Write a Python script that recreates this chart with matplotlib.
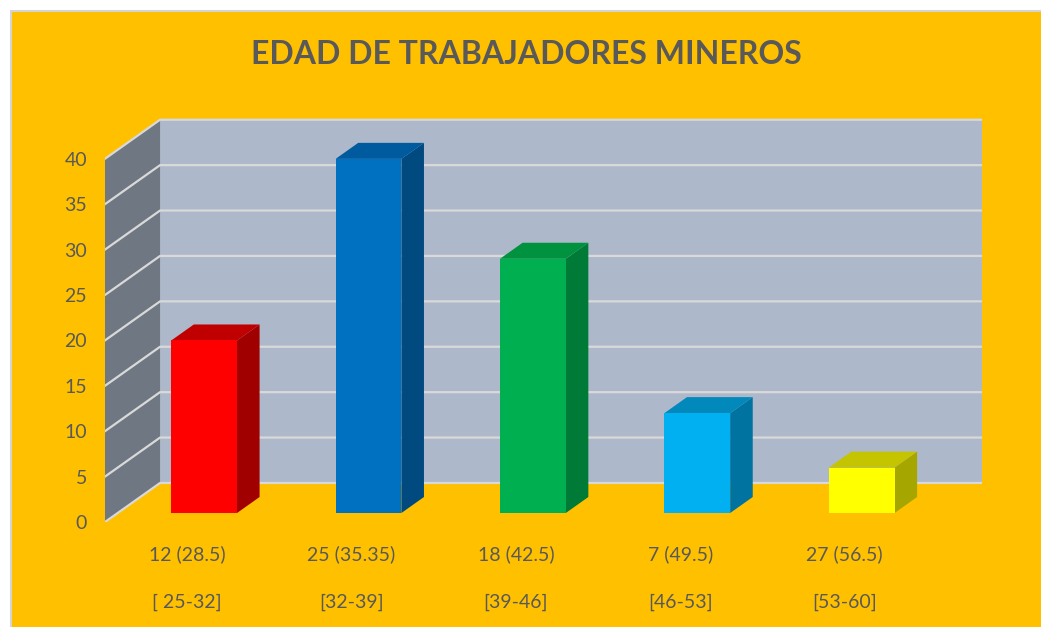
import matplotlib.pyplot as plt
from matplotlib.patches import Polygon, Rectangle

# datos del grafico
categorias = ['12 (28.5)', '25 (35.35)', '18 (42.5)', '7 (49.5)', '27 (56.5)']
intervalos = ['[ 25-32]', '[32-39]', '[39-46]', '[46-53]', '[53-60]']
valores = [19, 39, 28, 11, 5]
ticks_y = [0, 5, 10, 15, 20, 25, 30, 35, 40]

# colores: frente, lado, techo
frente = ['#FF0000', '#0070C0', '#00B050', '#00B0F0', '#FFFF00']
lado = ['#A00000', '#004A80', '#007A37', '#0073A0', '#A6A600']
techo = ['#C00000', '#005A9E', '#00923F', '#0089BA', '#C4C400']

plt.rcParams['font.family'] = ['Lato', 'DejaVu Sans']
gris = '#595959'

W, H = 1041, 627
fig = plt.figure(figsize=(W / 100, H / 100), dpi=100, facecolor='white')
fig.patches.append(Rectangle((10.5 / W, -0.01), 1.02, 1.01 - 10.5 / H,
                             transform=fig.transFigure, facecolor='#FFC000',
                             edgecolor='#D4D4D4', lw=1.5, zorder=-5))

ax = fig.add_axes([105 / W, 105 / H, 877 / W, 405 / H])
ax.set_facecolor('none')
ax.set_xlim(-0.5, 4.835)
ax.set_ylim(0, 44.6)
for s in ax.spines.values():
    s.set_visible(False)

# profundidad de la perspectiva
DX, DY = 0.335, 4.3
n = len(valores)

# paredes
ax.add_patch(Rectangle((-0.5 + DX, DY), n, 40, facecolor='#ADB9CA', zorder=1))
ax.add_patch(Polygon([(-0.5, 0), (-0.5, 40), (-0.5 + DX, 40 + DY), (-0.5 + DX, DY)],
                     closed=True, facecolor='#6F7782', zorder=1))
for k in ticks_y:
    ax.plot([-0.5, -0.5 + DX, n - 0.5 + DX], [k, k + DY, k + DY],
            color='#D9D9D9', lw=1.6, zorder=2)

# barras 3d
z0, prof, ancho = 0.23, 0.41, 0.40
base = z0 * DY
xs = [i + 0.103 for i in range(n)]
ax.bar(xs, valores, width=ancho, bottom=base, color=frente, zorder=5)
for i, v in enumerate(valores):
    xl = xs[i] - ancho / 2
    xr = xs[i] + ancho / 2
    dx, dy = prof * DX, prof * DY
    ax.add_patch(Polygon([(xr, base), (xr + dx, base + dy), (xr + dx, base + v + dy), (xr, base + v)],
                         closed=True, facecolor=lado[i], zorder=4))
    ax.add_patch(Polygon([(xl, base + v), (xl + dx, base + v + dy), (xr + dx, base + v + dy), (xr, base + v)],
                         closed=True, facecolor=techo[i], zorder=4))

# ejes
ax.set_xticks([])
ax.set_yticks(ticks_y)
ax.tick_params(axis='y', length=0, pad=13, labelsize=14, labelcolor=gris)

for i in range(n):
    ax.text(i, -3.6, categorias[i], ha='center', va='center', fontsize=14, color=gris)
    ax.text(i, -8.9, intervalos[i], ha='center', va='center', fontsize=14, color=gris)

fig.text(526 / W, 1 - 55 / H, 'EDAD DE TRABAJADORES MINEROS', ha='center', va='center',
         fontsize=23, fontweight='bold', color=gris)

fig.savefig('out.png', dpi=100, facecolor=fig.get_facecolor())
